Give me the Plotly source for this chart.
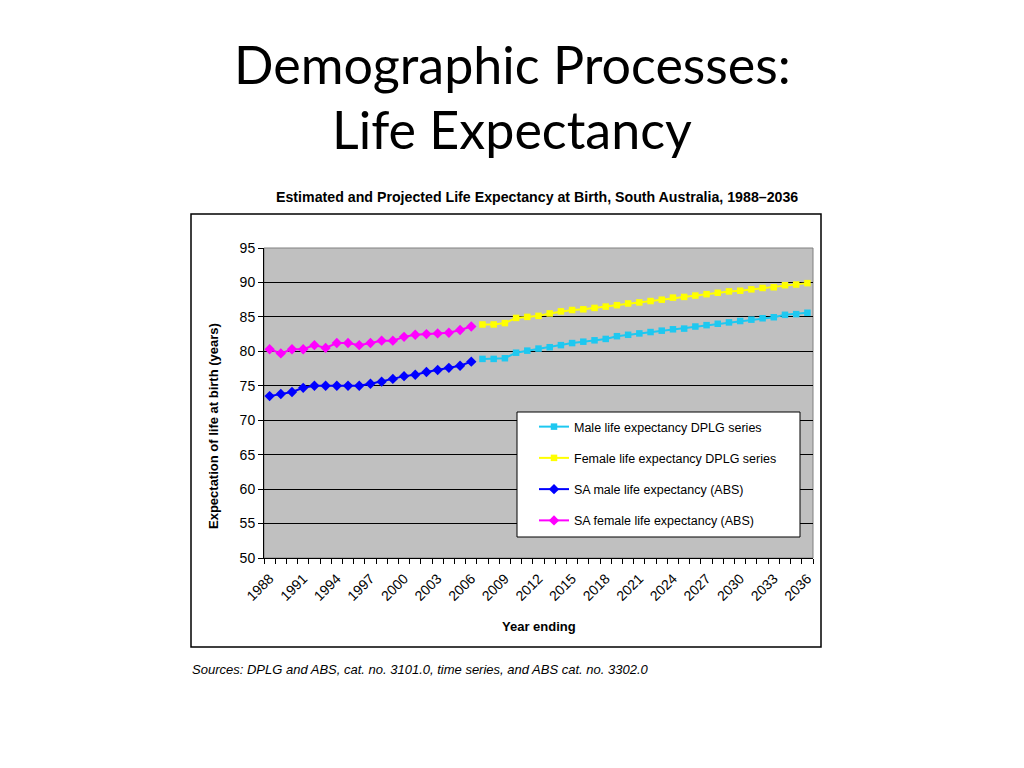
import plotly.graph_objects as go

# years
abs_years = list(range(1988, 2007))
dplg_years = list(range(2007, 2037))

# ABS estimates
sa_male = [73.5, 73.8, 74.1, 74.7, 75.0, 75.0, 75.0, 75.0, 75.0, 75.3,
           75.6, 76.0, 76.4, 76.6, 77.0, 77.3, 77.6, 77.9, 78.5]
sa_female = [80.3, 79.7, 80.3, 80.3, 80.9, 80.5, 81.2, 81.2, 80.9, 81.2,
             81.55, 81.55, 82.1, 82.4, 82.5, 82.6, 82.7, 83.1, 83.6]

# DPLG projections
dplg_male = [78.9, 78.9, 79.0, 79.8, 80.1, 80.4, 80.6, 80.9, 81.2, 81.4,
             81.6, 81.8, 82.2, 82.4, 82.6, 82.8, 83.0, 83.2, 83.3, 83.6,
             83.8, 84.0, 84.2, 84.4, 84.6, 84.8, 84.95, 85.3, 85.4, 85.6]
dplg_female = [83.9, 83.9, 84.1, 84.85, 85.0, 85.15, 85.5, 85.8, 86.0, 86.1,
               86.3, 86.5, 86.7, 86.95, 87.1, 87.3, 87.5, 87.8, 87.9, 88.1,
               88.3, 88.5, 88.7, 88.8, 89.0, 89.2, 89.3, 89.6, 89.7, 89.9]

tick_years = list(range(1988, 2037, 3))

fig = go.Figure()

series = [
    ("Male life expectancy DPLG series", dplg_years, dplg_male, "#1EC8F0", "square", 6.5),
    ("Female life expectancy DPLG series", dplg_years, dplg_female, "#FFFF00", "square", 6.5),
    ("SA male life expectancy (ABS)", abs_years, sa_male, "#0000FF", "diamond", 8),
    ("SA female life expectancy (ABS)", abs_years, sa_female, "#FF00FF", "diamond", 8),
]

for name, xs, ys, col, sym, sz in series:
    fig.add_trace(go.Scatter(
        x=xs, y=ys, name=name, mode="lines+markers", legendgroup=name,
        line=dict(color=col, width=2),
        marker=dict(color=col, symbol=sym, size=sz),
    ))


def px_y(py):
    # pixel row on the page -> paper y (plot area spans rows 248..558)
    return (558 - py) / 310


def px_x(px):
    return (px - 264) / 549


# plot area border (gray), legend box and outer chart frame
fig.add_shape(type="rect", xref="paper", yref="paper", x0=0, x1=1, y0=0, y1=1,
              line=dict(color="#808080", width=1), layer="below")
fig.add_shape(type="rect", xref="paper", yref="paper",
              x0=px_x(517), x1=px_x(800), y0=px_y(537), y1=px_y(412),
              fillcolor="white", line=dict(color="black", width=1), layer="above")
fig.add_shape(type="rect", xref="paper", yref="paper",
              x0=px_x(191), x1=px_x(821), y0=px_y(647), y1=px_y(214),
              line=dict(color="black", width=1.5))

# slide title, two lines
fig.add_annotation(text="Demographic Processes:",
                   xref="paper", yref="paper", x=px_x(512), y=px_y(64),
                   xanchor="center", yanchor="middle",
                   showarrow=False, font=dict(family="Lato", size=52, color="black"))
fig.add_annotation(text="Life Expectancy",
                   xref="paper", yref="paper", x=px_x(512), y=px_y(129),
                   xanchor="center", yanchor="middle",
                   showarrow=False, font=dict(family="Lato", size=52, color="black"))

fig.add_annotation(text="<b>Estimated and Projected Life Expectancy at Birth, South Australia, 1988–2036</b>",
                   xref="paper", yref="paper", x=px_x(537), y=px_y(197),
                   xanchor="center", yanchor="middle",
                   showarrow=False, font=dict(family="Liberation Sans", size=14.2, color="black"))
fig.add_annotation(text="<b>Expectation of life at birth (years)</b>", textangle=-90,
                   xref="paper", yref="paper", x=px_x(213), y=px_y(426),
                   xanchor="center", yanchor="middle",
                   showarrow=False, font=dict(family="Liberation Sans", size=13, color="black"))
fig.add_annotation(text="<b>Year ending</b>",
                   xref="paper", yref="paper", x=px_x(539), y=px_y(626),
                   xanchor="center", yanchor="middle",
                   showarrow=False, font=dict(family="Liberation Sans", size=13, color="black"))
fig.add_annotation(text="<i>Sources: DPLG and ABS, cat. no. 3101.0, time series, and ABS cat. no. 3302.0</i>",
                   xref="paper", yref="paper", x=px_x(190), y=px_y(669),
                   xanchor="left", yanchor="middle",
                   showarrow=False, font=dict(family="Liberation Sans", size=13, color="black"))

fig.update_xaxes(
    range=[1987.5, 2036.5], tickmode="array", tickvals=tick_years,
    ticktext=[str(y) for y in tick_years], tickangle=-45,
    ticks="", showgrid=False, showline=True, linecolor="black", linewidth=1,
    minor=dict(ticks="outside", tick0=1987.5, dtick=1, ticklen=5,
               tickcolor="black", showgrid=False),
    tickfont=dict(family="Liberation Sans", size=14, color="black"),
    ticklabelstandoff=6,
    zeroline=False,
)
fig.update_yaxes(
    range=[50, 95], dtick=5, ticks="outside", ticklen=5, tickcolor="black",
    showgrid=True, gridcolor="black", gridwidth=1,
    showline=True, linecolor="black", linewidth=1,
    tickfont=dict(family="Liberation Sans", size=14, color="black"),
    zeroline=False,
)

# page body adds an 8px offset, so the margins are shifted by 8
fig.update_layout(
    width=1024, height=768,
    margin=dict(l=256, r=219, t=240, b=218),
    paper_bgcolor="white", plot_bgcolor="#C0C0C0",
    font=dict(family="Liberation Sans", color="black"),
    legend=dict(
        x=px_x(534), y=px_y(412), xanchor="left", yanchor="top",
        bgcolor="rgba(0,0,0,0)", borderwidth=0,
        font=dict(family="Liberation Sans", size=12.5, color="black"),
        traceorder="grouped", tracegroupgap=12,
        itemwidth=30,
    ),
)

fig.write_html("out.html")
